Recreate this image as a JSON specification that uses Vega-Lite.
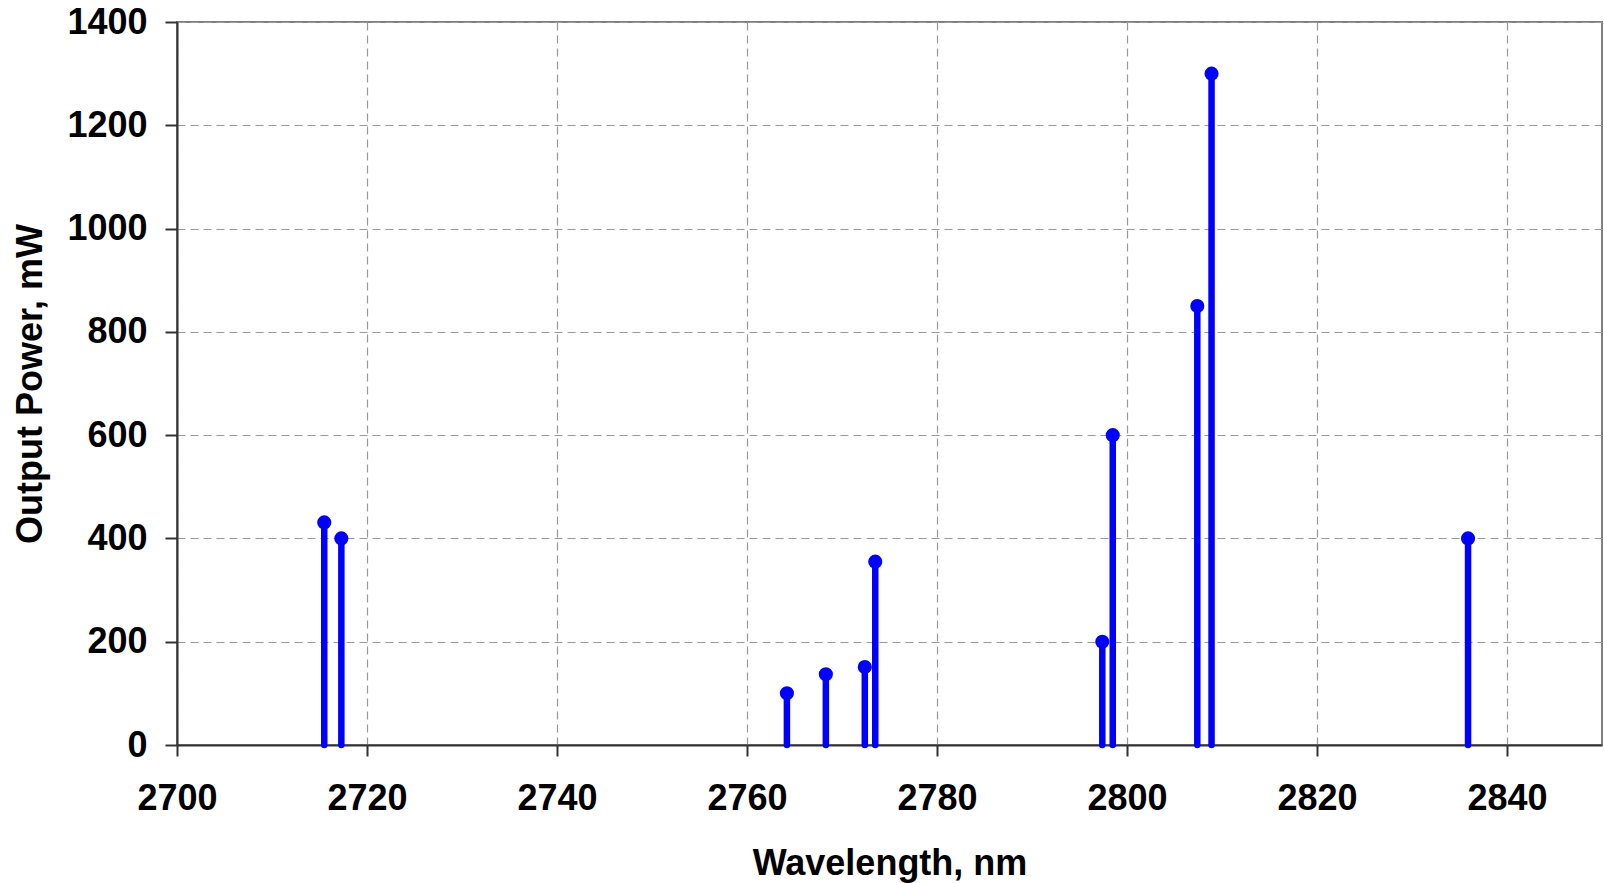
{
  "$schema": "https://vega.github.io/schema/vega-lite/v6.json",
  "autosize": "none",
  "width": 1425,
  "height": 723,
  "padding": {"left": 177, "top": 22, "right": 2, "bottom": 138},
  "background": "white",
  "config": {
    "view": {"stroke": "#808080", "strokeWidth": 2},
    "font": "Liberation Sans",
    "axis": {
      "labelFont": "Liberation Sans",
      "titleFont": "Liberation Sans",
      "labelFontWeight": "bold",
      "titleFontWeight": "bold",
      "labelFontSize": 36,
      "titleFontSize": 36,
      "labelColor": "black",
      "titleColor": "black",
      "domainColor": "#333333",
      "domainWidth": 2,
      "tickColor": "#333333",
      "tickWidth": 2,
      "gridColor": "#999999",
      "gridDash": [8, 5],
      "gridWidth": 1.2
    }
  },
  "data": {
    "values": [
      {"wavelength": 2715.5, "power": 431},
      {"wavelength": 2717.3, "power": 400},
      {"wavelength": 2764.2, "power": 100},
      {"wavelength": 2768.3, "power": 137},
      {"wavelength": 2772.4, "power": 151},
      {"wavelength": 2773.5, "power": 355},
      {"wavelength": 2797.4, "power": 200},
      {"wavelength": 2798.5, "power": 600},
      {"wavelength": 2807.4, "power": 850},
      {"wavelength": 2808.9, "power": 1300},
      {"wavelength": 2835.9, "power": 400}
    ]
  },
  "encoding": {
    "x": {
      "field": "wavelength",
      "type": "quantitative",
      "scale": {"domain": [2700, 2850], "nice": false, "zero": false},
      "axis": {
        "title": "Wavelength, nm",
        "values": [2700, 2720, 2740, 2760, 2780, 2800, 2820, 2840],
        "format": "d",
        "tickSize": 11,
        "labelPadding": 25,
        "titlePadding": 30,
        "labelFlush": false
      }
    },
    "y": {
      "field": "power",
      "type": "quantitative",
      "scale": {"domain": [0, 1400], "nice": false},
      "axis": {
        "title": "Output Power, mW",
        "values": [0, 200, 400, 600, 800, 1000, 1200, 1400],
        "format": "d",
        "tickSize": 12,
        "labelPadding": 18,
        "titlePadding": 17,
        "labelFlush": false
      }
    }
  },
  "layer": [
    {
      "mark": {"type": "rule", "color": "#0000ff", "strokeWidth": 6.5, "strokeCap": "round"},
      "encoding": {"y2": {"datum": 0}}
    },
    {
      "mark": {"type": "point", "filled": true, "color": "#0000ff", "opacity": 1, "size": 200}
    }
  ]
}
